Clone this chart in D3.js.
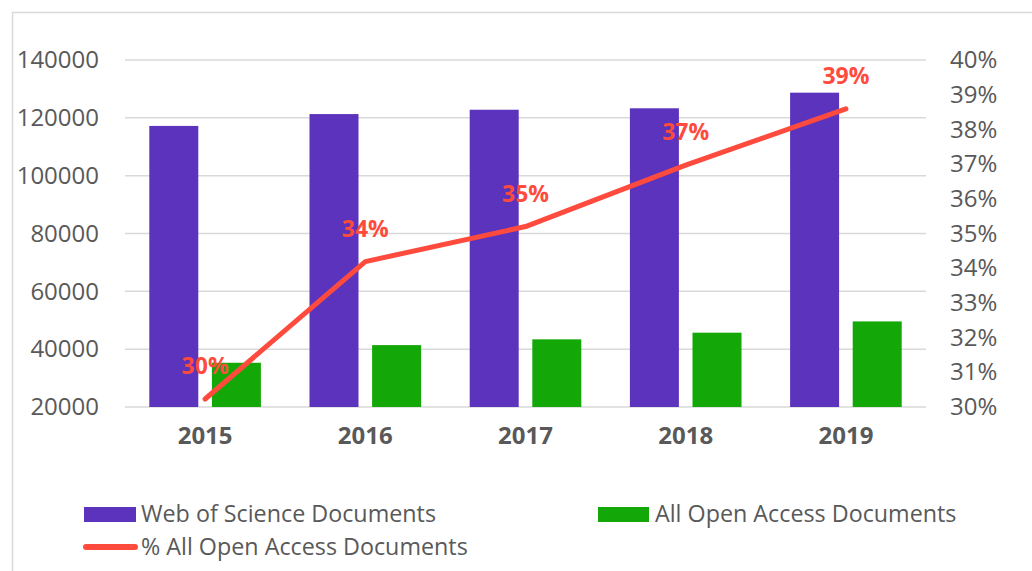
<!DOCTYPE html>
<html>
<head>
<meta charset="utf-8">
<script src="https://cdn.jsdelivr.net/npm/d3@7"></script>
<style>
  body { margin: 0; background: #fff; }
  svg { display: block; }
  svg text { font-family: "Open Sans", "Noto Sans", sans-serif; }
</style>
</head>
<body>
<svg></svg>
<script>
const years = ['2015', '2016', '2017', '2018', '2019'];
const wosDocs = [117200, 121300, 122800, 123300, 128700];
const oaDocs = [35300, 41400, 43400, 45700, 49600];
const oaPct = [0.3023, 0.3419, 0.3520, 0.3697, 0.3859];
const leftTicks = [20000, 40000, 60000, 80000, 100000, 120000, 140000];
const rightTicks = [0.30, 0.31, 0.32, 0.33, 0.34, 0.35, 0.36, 0.37, 0.38, 0.39, 0.40];

const colors = {wos: '#5c33bd', oa: '#13a807', pct: '#ff4b3d', grid: '#d9d9d9', text: '#595959'};

const SVGsize = {w: 1032, h: 571};
const plot = {l: 125, r: 926, t: 60, b: 407};

const svg = d3.select('svg')
    .attr('width', SVGsize.w)
    .attr('height', SVGsize.h);

// chart frame
svg.append('path')
    .attr('d', `M12.5,${SVGsize.h + 2} V12.5 H${SVGsize.w + 2}`)
    .attr('fill', 'none')
    .attr('stroke', colors.grid)
    .attr('stroke-width', 1.5);

const scaleX = d3.scaleBand()
    .domain(years)
    .range([plot.l, plot.r]);

const scaleY = d3.scaleLinear()
    .domain([20000, 140000])
    .range([plot.b, plot.t]);

const scaleP = d3.scaleLinear()
    .domain([0.30, 0.40])
    .range([plot.b, plot.t]);

// gridlines
svg.append('g')
    .selectAll('line')
    .data(leftTicks)
    .join('line')
    .attr('x1', plot.l).attr('x2', plot.r)
    .attr('y1', d => scaleY(d)).attr('y2', d => scaleY(d))
    .attr('stroke', colors.grid)
    .attr('stroke-width', 1.5);

function styleAxis(g, bold) {
    g.attr('font-family', null).attr('font-size', null);
    g.select('.domain').remove();
    g.selectAll('text')
        .attr('fill', colors.text)
        .style('font-size', '24px')
        .style('font-weight', bold ? 'bold' : 'normal');
}

// left axis
svg.append('g')
    .attr('transform', `translate(${plot.l}, 0)`)
    .call(d3.axisLeft(scaleY).tickValues(leftTicks).tickSize(0).tickPadding(26).tickFormat(d3.format('d')))
    .call(g => styleAxis(g, false));

// right axis
svg.append('g')
    .attr('transform', `translate(${plot.r}, 0)`)
    .call(d3.axisRight(scaleP).tickValues(rightTicks).tickSize(0).tickPadding(24).tickFormat(d3.format('.0%')))
    .call(g => styleAxis(g, false));

// bottom axis
svg.append('g')
    .attr('transform', `translate(0, ${plot.b})`)
    .call(d3.axisBottom(scaleX).tickSize(0).tickPadding(20))
    .call(g => styleAxis(g, true));

// bars
const barW = 49, barGap = 13.6;
const inner = d3.scaleBand().domain(['wos', 'oa']).range([0, 2 * barW + barGap]).paddingInner(barGap / (barW + barGap));
const groupOffset = (scaleX.bandwidth() - (2 * barW + barGap)) / 2;

const series = [
    {key: 'wos', values: wosDocs},
    {key: 'oa', values: oaDocs}
];

series.forEach(s => {
    svg.append('g')
        .selectAll('rect')
        .data(s.values)
        .join('rect')
        .attr('x', (d, i) => scaleX(years[i]) + groupOffset + inner(s.key))
        .attr('width', inner.bandwidth())
        .attr('y', d => scaleY(d))
        .attr('height', d => scaleY(20000) - scaleY(d))
        .attr('fill', colors[s.key]);
});

// line
const cx = i => scaleX(years[i]) + scaleX.bandwidth() / 2;
svg.append('path')
    .datum(oaPct)
    .attr('fill', 'none')
    .attr('stroke', colors.pct)
    .attr('stroke-width', 5)
    .attr('stroke-linecap', 'round')
    .attr('stroke-linejoin', 'round')
    .attr('d', d3.line()
        .x((d, i) => cx(i))
        .y(d => scaleP(d)));

// data labels
svg.append('g')
    .selectAll('text')
    .data(oaPct)
    .join('text')
    .attr('x', (d, i) => cx(i))
    .attr('y', d => scaleP(d) - 25)
    .attr('text-anchor', 'middle')
    .attr('fill', colors.pct)
    .style('font-size', '23px')
    .style('font-weight', 'bold')
    .text(d => d3.format('.0%')(d));

// legend
const legend = svg.append('g').style('font-size', '23.3px').attr('fill', colors.text);
legend.append('rect').attr('x', 84).attr('y', 507).attr('width', 52).attr('height', 15).attr('fill', colors.wos);
legend.append('text').attr('x', 141).attr('y', 522).text('Web of Science Documents');
legend.append('rect').attr('x', 598).attr('y', 507).attr('width', 51).attr('height', 15).attr('fill', colors.oa);
legend.append('text').attr('x', 655).attr('y', 522).text('All Open Access Documents');
legend.append('line')
    .attr('x1', 86).attr('x2', 135).attr('y1', 547).attr('y2', 547)
    .attr('stroke', colors.pct).attr('stroke-width', 6).attr('stroke-linecap', 'round');
legend.append('text').attr('x', 141).attr('y', 555).text('% All Open Access Documents');
</script>
</body>
</html>
